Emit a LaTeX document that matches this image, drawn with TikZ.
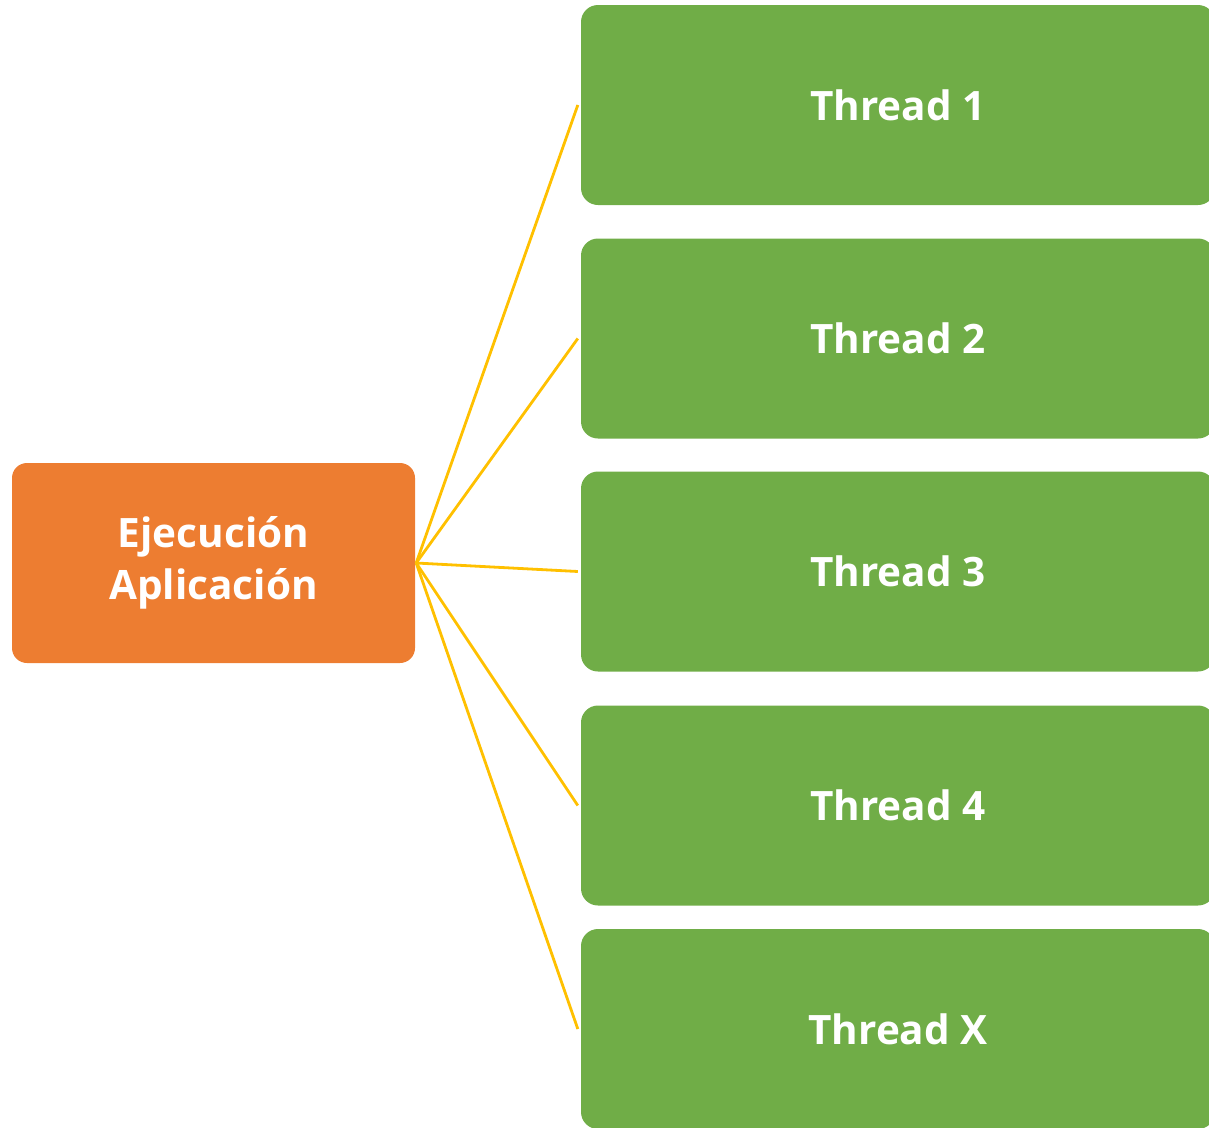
\documentclass[tikz,border=0pt]{standalone}
\usepackage{fontspec}
\setmainfont{Open Sans}
\definecolor{thrgreen}{HTML}{70AD47}
\definecolor{appoorange}{HTML}{ED7D31}
\definecolor{linkyellow}{HTML}{FFC000}
\begin{document}
\begin{tikzpicture}[x=1pt,y=-1pt,
  threadbox/.style={fill=thrgreen, rounded corners=17pt, minimum width=634pt,
    minimum height=200pt, inner sep=0pt, text=white,
    font=\fontsize{40.5}{52}\selectfont\bfseries},
  appbox/.style={fill=appoorange, rounded corners=15pt, minimum width=403pt,
    minimum height=200pt, inner sep=0pt, text=white, align=center,
    font=\fontsize{40.5}{52}\selectfont\bfseries},
  link/.style={draw=linkyellow, line width=2.8pt}]
  \useasboundingbox (0,0) rectangle (1209,1127);
  \clip (0,0) rectangle (1209,1127);
  % application node
  \node[appbox] (app) at (213.5,563) {Ejecución\\Aplicación};
  % thread nodes
  \node[threadbox] (t1) at (898,105) {Thread 1};
  \node[threadbox] (t2) at (898,338.5) {Thread 2};
  \node[threadbox] (t3) at (898,571.5) {Thread 3};
  \node[threadbox] (t4) at (898,805.5) {Thread 4};
  \node[threadbox] (tx) at (898,1029) {Thread X};
  % connectors end just short of the thread boxes
  \coordinate (j) at ([xshift=1pt]app.east);
  \foreach \t in {t1,t2,t3,t4,tx}{
    \coordinate (\t in) at ([xshift=-3pt]\t.west);
    \draw[link] (j) -- (\t in);
  }
\end{tikzpicture}
\end{document}
